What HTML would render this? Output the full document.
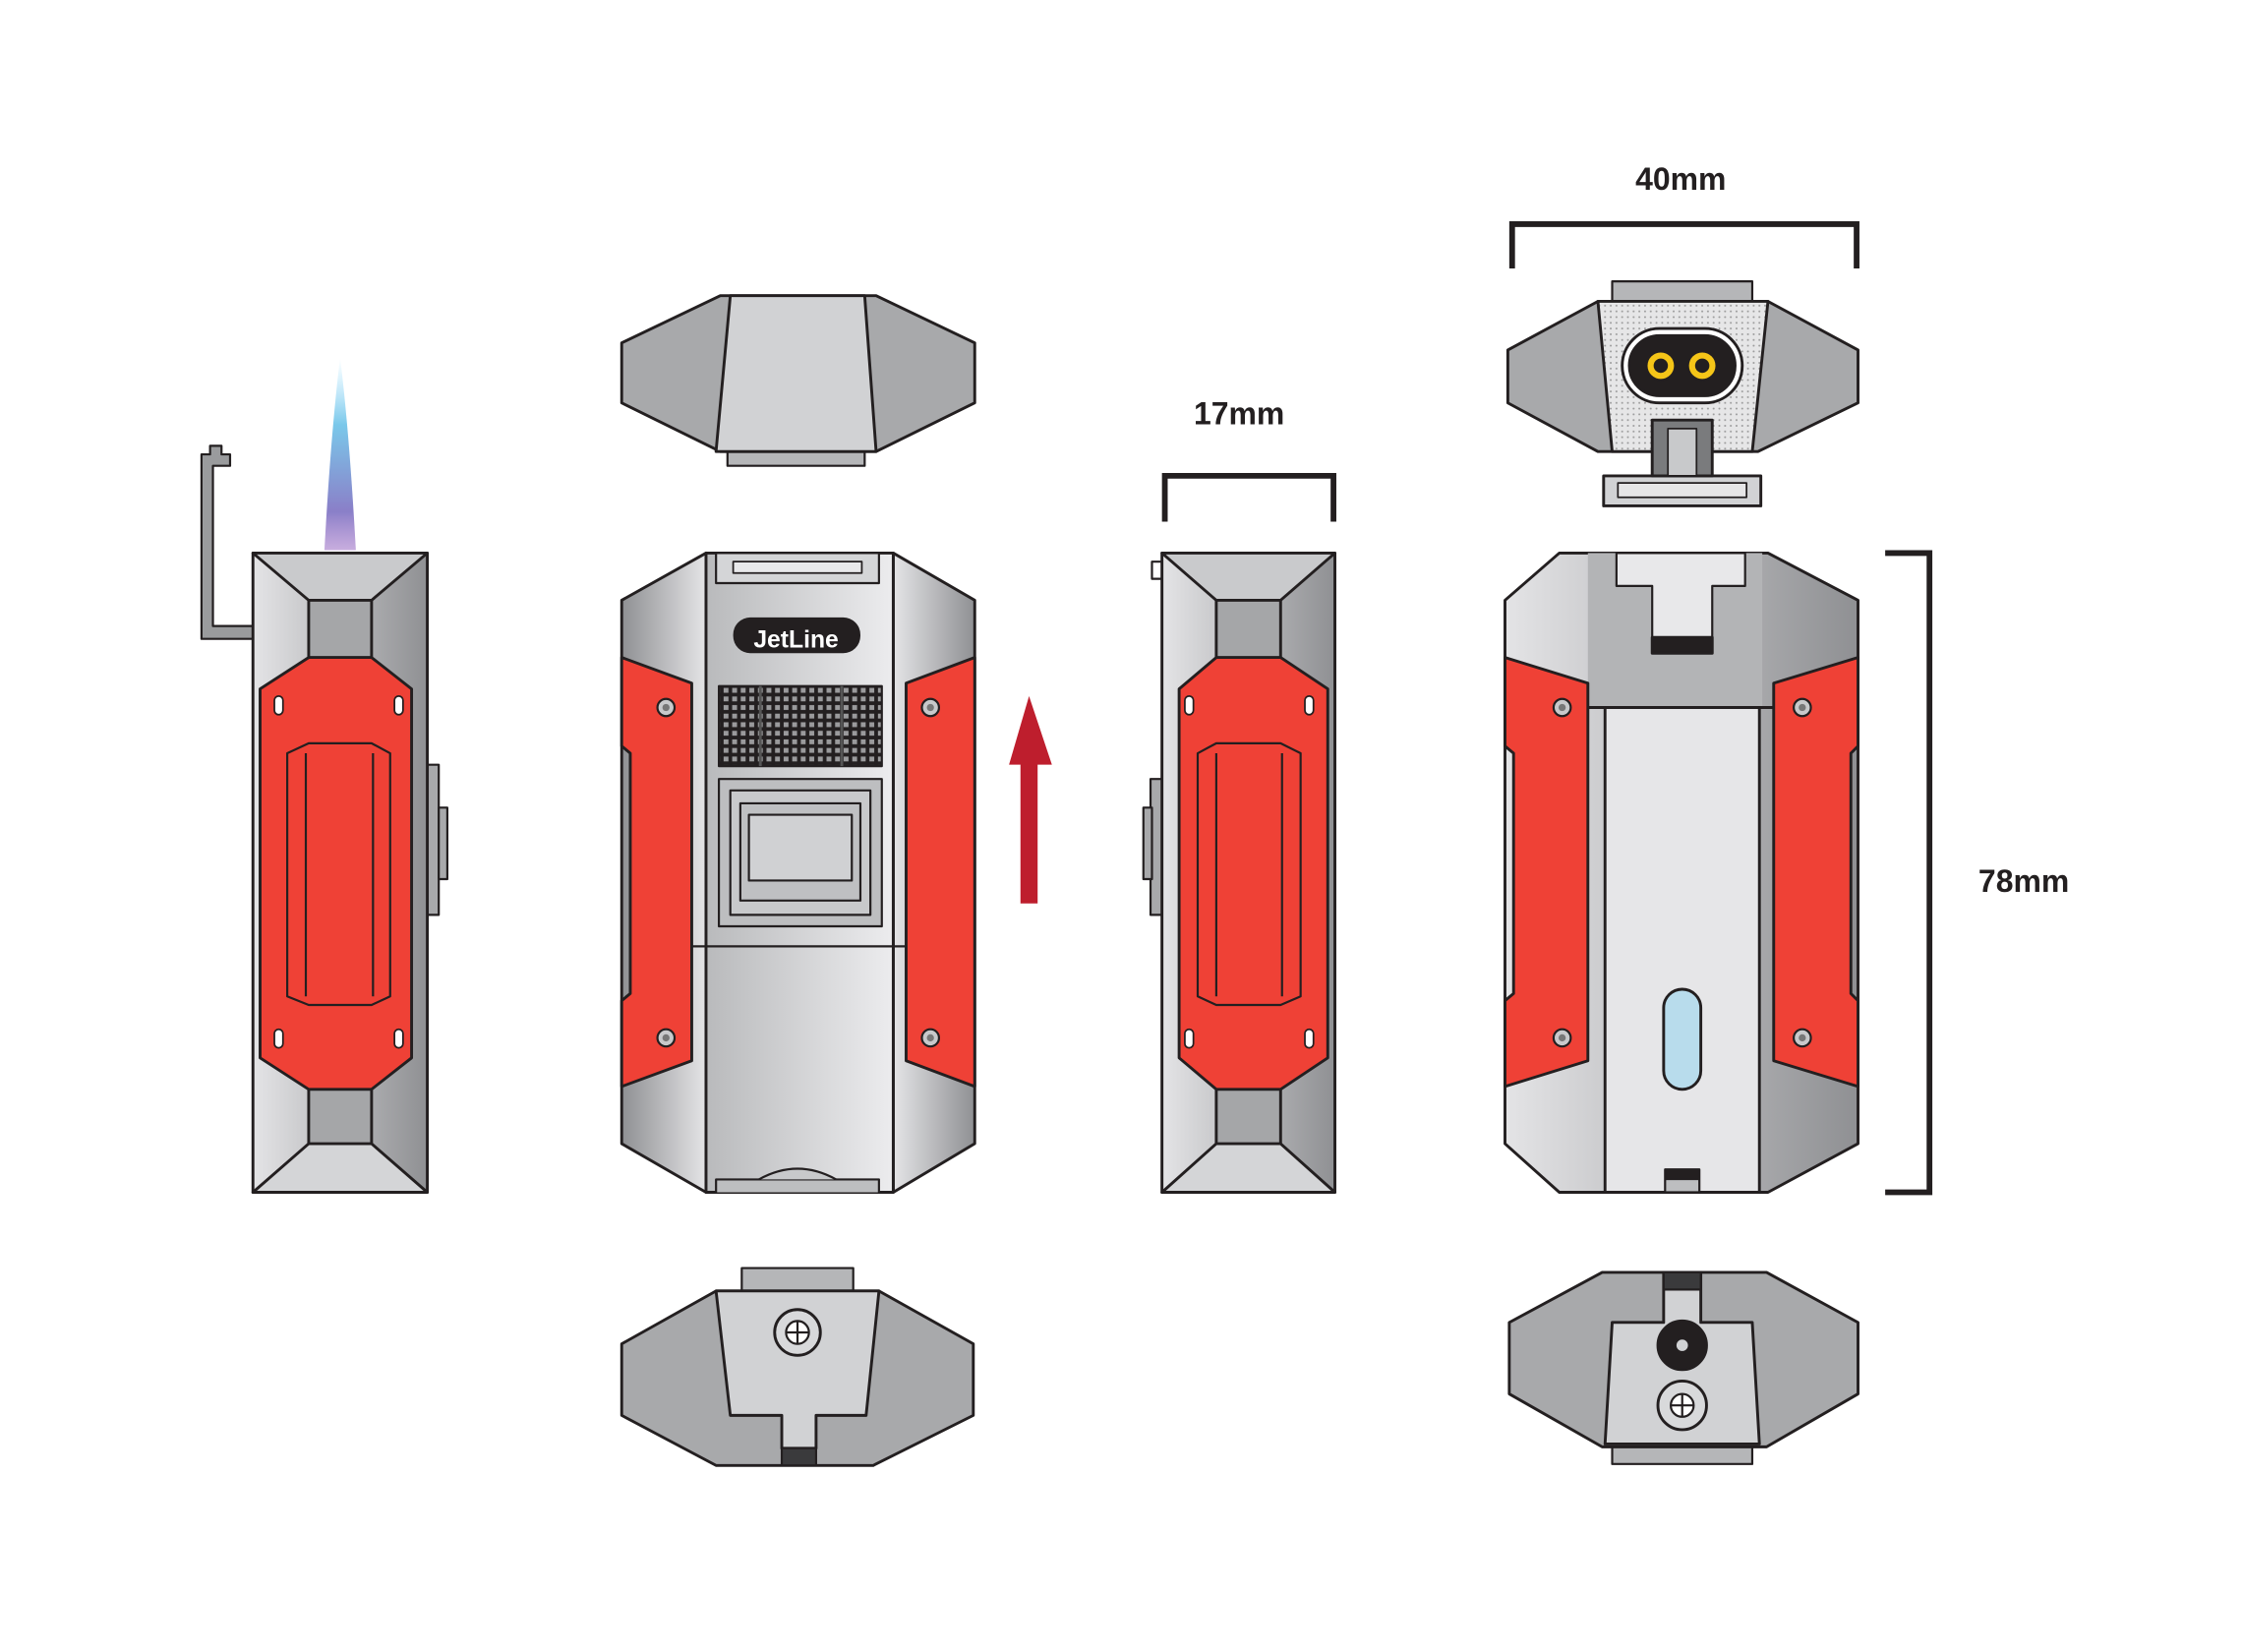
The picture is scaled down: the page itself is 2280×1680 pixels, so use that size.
<!DOCTYPE html>
<html><head><meta charset="utf-8"><style>html,body{margin:0;padding:0;background:#fff}svg{display:block}</style></head>
<body>
<svg width="2280" height="1680" viewBox="0 0 1560 1150" preserveAspectRatio="none" xmlns="http://www.w3.org/2000/svg">
<defs>
<linearGradient id="gh" x1="0" x2="1"><stop offset="0" stop-color="#e4e4e6"/><stop offset="1" stop-color="#8f9093"/></linearGradient>
<linearGradient id="gh2" x1="0" x2="1"><stop offset="0" stop-color="#8f9093"/><stop offset="1" stop-color="#e4e4e6"/></linearGradient>
<linearGradient id="gc" x1="0" x2="1"><stop offset="0" stop-color="#b9babc"/><stop offset="1" stop-color="#ececee"/></linearGradient>
<linearGradient id="fl" x1="0" y1="0" x2="0" y2="1"><stop offset="0" stop-color="#9ee0ff" stop-opacity="0"/><stop offset="0.35" stop-color="#7ac8ea"/><stop offset="0.8" stop-color="#8a7fc8"/><stop offset="1" stop-color="#b08ad0" stop-opacity="0.7"/></linearGradient>
<pattern id="grid" width="6" height="6" patternUnits="userSpaceOnUse"><rect width="6" height="6" fill="#231f20"/><rect x="1.3" y="1.3" width="3.4" height="3.4" fill="#9a9a9c"/></pattern>
<pattern id="dots" width="4" height="4" patternUnits="userSpaceOnUse"><rect width="4" height="4" fill="#e6e6e7"/><circle cx="2" cy="2" r="0.7" fill="#9a9a9a"/></pattern>
</defs>
<g transform="matrix(0.9945 0 0 0.9955 0.97 -0.26)">
<g stroke="#231f20" stroke-width="2" stroke-linejoin="round">

<path d="M237,250 C231,300 228,350 226,385 L248,385 C246,350 243,300 237,250Z" fill="url(#fl)" stroke="none"/>
<path d="M140,318 V447 H176 V438 H148 V326 H160 V318 H154 V312 H146 V318Z" fill="#9a9b9d" stroke-width="1.5"/>
<rect x="298" y="535" width="8" height="105" fill="#a8a9ab" stroke-width="1.5"/>
<rect x="306" y="565" width="6" height="50" fill="#a8a9ab" stroke-width="1.5"/>
<rect x="176" y="387" width="122" height="447" fill="url(#gh)"/>
<path d="M176,387 L215,420 L259,420 L298,387Z" fill="#c9cacc"/>
<path d="M176,834 L215,800 L259,800 L298,834Z" fill="#d4d5d7"/>
<rect x="215" y="420" width="44" height="380" fill="#a5a6a8"/>
<path d="M181,482 L215,460 L259,460 L287,482 L287,740 L259,762 L215,762 L181,740Z" fill="#ef4136"/>
<path d="M200,527 L215,520 L259,520 L272,527 L272,697 L259,703 L215,703 L200,697Z" fill="none" stroke-width="1.5"/>
<path d="M213,527 L213,697 M260,527 L260,697" fill="none" stroke-width="1.5"/>
<g fill="#fff" stroke-width="1.2"><rect x="191" y="487" width="6" height="13" rx="3"/><rect x="275" y="487" width="6" height="13" rx="3"/><rect x="191" y="720" width="6" height="13" rx="3"/><rect x="275" y="720" width="6" height="13" rx="3"/></g>

<rect x="508" y="312" width="96" height="14" fill="#b5b6b8" stroke-width="1.5"/>
<path d="M434,240 L503,207 L612,207 L681,240 L681,282 L612,316 L503,316 L434,282Z" fill="#a8a9ab"/>
<path d="M510,207 L604,207 L612,316 L500,316Z" fill="#d1d2d4"/>

<path d="M434,420 L493,387 L493,834 L434,800Z" fill="url(#gh2)"/>
<path d="M624,387 L681,420 L681,800 L624,834Z" fill="url(#gh)"/>
<rect x="493" y="387" width="131" height="447" fill="url(#gc)"/>
<rect x="500" y="387" width="114" height="21" fill="#d4d5d7" stroke-width="1.5"/>
<rect x="512" y="393" width="90" height="8" fill="#e8e8ea" stroke-width="1.2"/>
<rect x="512" y="432" width="89" height="25" rx="12" fill="#231f20" stroke="none"/>
<text x="556" y="453" font-family="Liberation Sans, sans-serif" font-weight="bold" font-size="17" fill="#fff" stroke="none" text-anchor="middle">JetLine</text>
<rect x="502" y="480" width="114" height="56" fill="url(#grid)" stroke-width="1.5"/>
<line x1="531" y1="480" x2="531" y2="536" stroke="#555"/><line x1="588" y1="480" x2="588" y2="536" stroke="#555"/>
<rect x="502" y="545" width="114" height="103" fill="#bdbec0" stroke-width="1.5"/>
<rect x="510" y="553" width="98" height="87" fill="#c8c9cb" stroke-width="1.5"/>
<rect x="517" y="562" width="84" height="68" fill="#bfc0c2" stroke-width="1.5"/>
<rect x="523" y="570" width="72" height="46" fill="#d0d1d3" stroke-width="1.5"/>
<line x1="483" y1="662" x2="633" y2="662" stroke-width="1.5"/>
<path d="M500,834 V825 H614 V834" fill="#bdbec0" stroke-width="1.5"/>
<path d="M530,825 Q557,810 584,825" fill="#c8c9cb" stroke-width="1.5"/>
<path d="M434,460 L483,478 L483,742 L434,760 L434,700 L440,695 L440,527 L434,522Z" fill="#ef4136"/>
<path d="M681,460 L633,478 L633,742 L681,760Z" fill="#ef4136"/>
<g fill="#c8c9cb" stroke-width="1.5"><circle cx="465" cy="495" r="6"/><circle cx="465" cy="726" r="6"/><circle cx="650" cy="495" r="6"/><circle cx="650" cy="726" r="6"/></g>
<g fill="#777" stroke="none"><circle cx="465" cy="495" r="2.5"/><circle cx="465" cy="726" r="2.5"/><circle cx="650" cy="495" r="2.5"/><circle cx="650" cy="726" r="2.5"/></g>

<rect x="518" y="887" width="78" height="16" fill="#b5b6b8" stroke-width="1.5"/>
<path d="M434,940 L500,903 L614,903 L680,940 L680,990 L610,1025 L500,1025 L434,990Z" fill="#a8a9ab"/>
<path d="M500,903 L614,903 L605,990 L570,990 L570,1013 L546,1013 L546,990 L510,990Z" fill="#d1d2d4"/>
<rect x="546" y="1013" width="24" height="12" fill="#3a3a3c" stroke-width="1.5"/>
<circle cx="557" cy="932" r="16" fill="#d8d9db"/>
<circle cx="557" cy="932" r="8" fill="#fff" stroke-width="1.5"/>
<path d="M549,932 H565 M557,924 V940" stroke-width="1.5"/>

<path d="M713,632 V535 H705 L719,487 L735,535 H725 V632Z" fill="#be1e2d" stroke="none"/>

<rect x="805" y="393" width="7" height="12" fill="#fff" stroke-width="1.5"/>
<rect x="804" y="545" width="8" height="95" fill="#a8a9ab" stroke-width="1.5"/>
<rect x="799" y="565" width="6" height="50" fill="#a8a9ab" stroke-width="1.5"/>
<rect x="812" y="387" width="121" height="447" fill="url(#gh)"/>
<path d="M812,387 L850,420 L895,420 L933,387Z" fill="#c9cacc"/>
<path d="M812,834 L850,800 L895,800 L933,834Z" fill="#d4d5d7"/>
<rect x="850" y="420" width="45" height="380" fill="#a5a6a8"/>
<path d="M824,482 L850,460 L895,460 L928,482 L928,740 L895,762 L850,762 L824,740Z" fill="#ef4136"/>
<path d="M837,527 L850,520 L895,520 L909,527 L909,697 L895,703 L850,703 L837,697Z" fill="none" stroke-width="1.5"/>
<path d="M850,527 L850,697 M896,527 L896,697" fill="none" stroke-width="1.5"/>
<g fill="#fff" stroke-width="1.2"><rect x="828" y="487" width="6" height="13" rx="3"/><rect x="912" y="487" width="6" height="13" rx="3"/><rect x="828" y="720" width="6" height="13" rx="3"/><rect x="912" y="720" width="6" height="13" rx="3"/></g>

<rect x="1121" y="333" width="110" height="21" fill="#d1d2d4"/>
<rect x="1131" y="338" width="90" height="10" fill="#e6e6e7" stroke-width="1.2"/>
<rect x="1127" y="197" width="98" height="16" fill="#b5b6b8" stroke-width="1.5"/>
<path d="M1054,245 L1117,211 L1236,211 L1299,245 L1299,282 L1229,316 L1117,316 L1054,282Z" fill="#a8a9ab"/>
<path d="M1117,211 L1236,211 L1225,316 L1127,316Z" fill="url(#dots)"/>
<rect x="1155" y="294" width="42" height="39" fill="#7a7b7d"/>
<rect x="1166" y="300" width="20" height="33" fill="#c8c9cb" stroke-width="1.2"/>
<rect x="1134" y="230" width="84" height="52" rx="26" fill="#fff"/>
<rect x="1139" y="235" width="74" height="42" rx="21" fill="#231f20"/>
<circle cx="1161" cy="256" r="10" fill="#f5c518" stroke-width="1.5"/><circle cx="1161" cy="256" r="5" fill="#231f20" stroke="none"/>
<circle cx="1190" cy="256" r="10" fill="#f5c518" stroke-width="1.5"/><circle cx="1190" cy="256" r="5" fill="#231f20" stroke="none"/>

<path d="M1052,420 L1090,387 L1236,387 L1299,420 L1299,800 L1236,834 L1090,834 L1052,800Z" fill="url(#gh)"/>
<rect x="1110" y="387" width="122" height="108" fill="#b3b4b6" stroke="none"/>
<path d="M1130,387 H1220 V410 H1197 V457 H1155 V410 H1130Z" fill="#e8e8ea" stroke-width="1.5"/>
<rect x="1155" y="446" width="42" height="11" fill="#231f20"/>
<line x1="1110" y1="495" x2="1240" y2="495"/>
<rect x="1122" y="495" width="108" height="339" fill="#e6e6e8"/>
<rect x="1163" y="692" width="26" height="70" rx="13" fill="#b8dcec"/>
<rect x="1164" y="818" width="24" height="16" fill="#bdbec0" stroke-width="1.5"/>
<rect x="1164" y="818" width="24" height="7" fill="#231f20" stroke-width="1"/>
<path d="M1052,460 L1110,478 L1110,742 L1052,760 L1052,700 L1058,695 L1058,527 L1052,522Z" fill="#ef4136"/>
<path d="M1299,460 L1240,478 L1240,742 L1299,760 L1299,700 L1294,695 L1294,527 L1299,522Z" fill="#ef4136"/>
<g fill="#c8c9cb" stroke-width="1.5"><circle cx="1092" cy="495" r="6"/><circle cx="1092" cy="726" r="6"/><circle cx="1260" cy="495" r="6"/><circle cx="1260" cy="726" r="6"/></g>
<g fill="#777" stroke="none"><circle cx="1092" cy="495" r="2.5"/><circle cx="1092" cy="726" r="2.5"/><circle cx="1260" cy="495" r="2.5"/><circle cx="1260" cy="726" r="2.5"/></g>

<rect x="1127" y="1010" width="98" height="14" fill="#b5b6b8" stroke-width="1.5"/>
<path d="M1055,925 L1120,890 L1235,890 L1299,925 L1299,975 L1235,1012 L1120,1012 L1055,975Z" fill="#a8a9ab"/>
<path d="M1127,925 L1163,925 L1163,890 L1189,890 L1189,925 L1225,925 L1230,1010 L1122,1010Z" fill="#d1d2d4"/>
<rect x="1163" y="890" width="26" height="12" fill="#3a3a3c" stroke-width="1.5"/>
<circle cx="1176" cy="941" r="17" fill="#231f20"/><circle cx="1176" cy="941" r="4" fill="#d1d2d4" stroke="none"/>
<circle cx="1176" cy="983" r="17" fill="#d8d9db"/>
<circle cx="1176" cy="983" r="8" fill="#fff" stroke-width="1.5"/>
<path d="M1168,983 H1184 M1176,975 V991" stroke-width="1.5"/>

<g fill="none" stroke-width="4" stroke-linejoin="miter">
<path d="M814,365 V333 H932 V365"/>
<path d="M1057,188 V157 H1298 V188"/>
<path d="M1318,387 H1349 V834 H1318"/>
</g>
</g>
<g font-family="Liberation Sans, sans-serif" font-weight="bold" font-size="22" fill="#231f20" text-anchor="middle">
<text x="866" y="297">17mm</text>
<text x="1175" y="133">40mm</text>
<text x="1415" y="624">78mm</text>
</g>
</g>
</svg>
</body></html>
